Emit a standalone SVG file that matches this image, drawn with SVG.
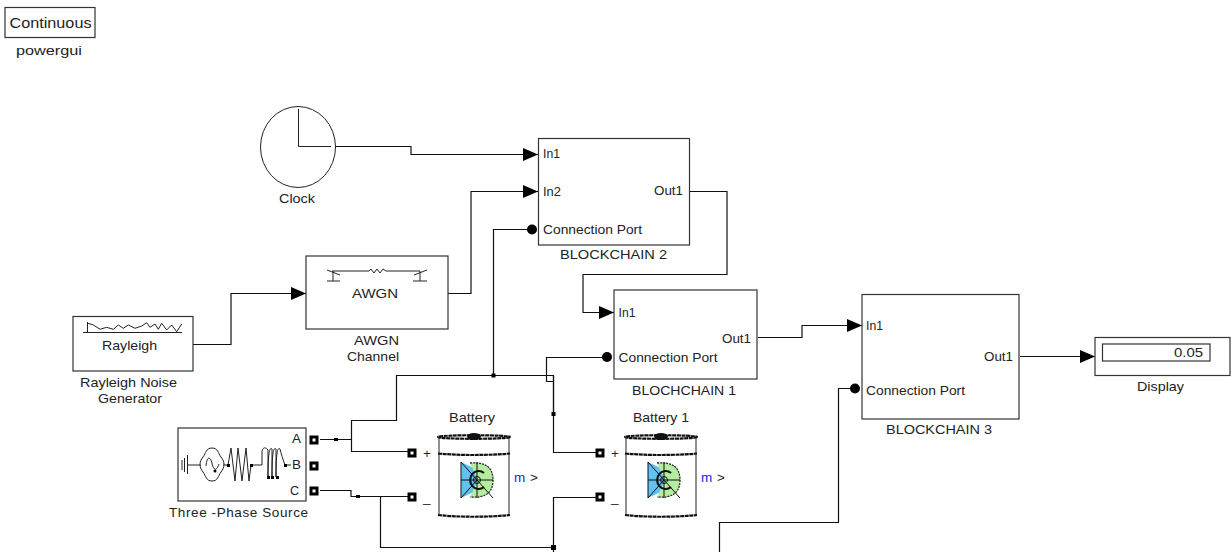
<svg xmlns="http://www.w3.org/2000/svg" width="1231" height="559" viewBox="0 0 1231 559">
<style>
text{font-family:"Liberation Sans",Arial,sans-serif;font-size:13.5px;fill:#222}
.b{fill:#fff;stroke:#333;stroke-width:1.2}
.w{fill:none;stroke:#111;stroke-width:1.2}
.i{fill:none;stroke:#222;stroke-width:1}
.h{fill:none;stroke:#111;stroke-width:2.2;stroke-dasharray:4 .6}
.d{fill:#000}
</style>
<defs>
<marker id="arr" markerUnits="userSpaceOnUse" markerWidth="15" markerHeight="13" refX="15" refY="6.5" orient="auto"><path d="M0 0L15 6.5L0 13Z" fill="#000"/></marker>
<g id="port"><rect x="-3" y="-3" width="6" height="6" fill="#fff" stroke="#000" stroke-width="3"/></g>
<g id="batt">
<path class="i" stroke-width="1.2" d="M439 437V516M509 437V516"/>
<ellipse class="h" cx="474" cy="437" rx="36" ry="1.8"/>
<ellipse cx="474" cy="436.5" rx="7" ry="3.5" fill="#111"/>
<path class="h" d="M438 453.500Q474 456.500 510 453.500"/>
<path class="h" d="M438 515Q474 518.500 510 515"/>
<path d="M461 462L478 470V490L461 498Z" fill="#63c1f2"/>
<path d="M470 463Q493 461 493 480Q493 499 470 497L478 480Z" fill="#b4eda0"/>
<path d="M470 463Q493 461 493 480Q493 499 470 497" fill="none" stroke="#222" stroke-width="1.3" stroke-dasharray="2 1"/>
<path d="M461 462V498L477 480ZM461 480H493M477 462V498M477 480L493 498" fill="none" stroke="#111"/>
<path d="M484 473A8.500 9 0 1 0 484 487" fill="none" stroke="#111" stroke-width="2.2"/>
<circle cx="477" cy="480" r="3.500" fill="none" stroke="#111"/>
</g>
</defs>

<g id="connectors">
<path class="w" marker-end="url(#arr)" d="M335 146.500H411V154.500H538"/>
<path class="w" marker-end="url(#arr)" d="M193 344.500H231V293.500H306"/>
<path class="w" marker-end="url(#arr)" d="M448 293.500H471V191.500H538"/>
<path class="w" marker-end="url(#arr)" d="M690 191.500H727V274.500H583V312.500H614"/>
<path class="w" marker-end="url(#arr)" d="M758 337.500H802V325.500H862"/>
<path class="w" marker-end="url(#arr)" d="M1020 356.500H1095"/>
<path class="w" d="M532 229.500H493.500V375.500"/>
<path class="w" d="M607 357.500H546.500V381.500H554"/>
<path class="w" d="M320 439.500H351.500V451.500H412"/>
<path class="w" d="M351.500 439.500V420.500H396.500V375.500H553.500V452.500H600"/>
<path class="w" stroke-width="2" d="M553.500 376V414"/>
<path class="w" d="M320 490.500H351V496.500H412"/>
<path class="w" d="M380.500 496.500V547.500H553.500"/>
<path class="w" d="M553.500 552V497.500H600"/>
<path class="w" d="M719.500 552V522.500H838.500V388.500H855"/>
<rect class="d" x="491.500" y="373.500" width="4" height="4"/>
<rect class="d" x="551.500" y="412" width="4" height="4"/>
<rect class="d" x="551" y="545" width="5" height="5"/>
<rect class="d" x="334" y="438" width="4" height="3"/>
<rect class="d" x="356" y="495" width="4" height="3"/>
</g>

<g id="powergui">
<rect class="b" x="5" y="7.500" width="90" height="30"/>
<text x="9.500" y="28" textLength="82" lengthAdjust="spacingAndGlyphs" style="font-size:15px">Continuous</text>
<text x="16" y="55" textLength="66" lengthAdjust="spacingAndGlyphs">powergui</text>
</g>

<g id="clock">
<ellipse class="i" cx="298" cy="147" rx="37.500" ry="40.500" stroke-width="1.200"/>
<path class="i" d="M298.500 109V146.500H331"/>
<text x="279" y="203" textLength="36" lengthAdjust="spacingAndGlyphs">Clock</text>
</g>

<g id="blockchain2">
<rect class="b" x="538.500" y="138.500" width="151" height="106.500"/>
<text x="543" y="158" textLength="17" lengthAdjust="spacingAndGlyphs">In1</text>
<text x="543" y="196" textLength="18" lengthAdjust="spacingAndGlyphs">In2</text>
<text x="543" y="234" textLength="99" lengthAdjust="spacingAndGlyphs">Connection Port</text>
<text x="654" y="195" textLength="29" lengthAdjust="spacingAndGlyphs">Out1</text>
<circle class="d" cx="532" cy="229.500" r="5"/>
<text x="560" y="259" textLength="107" lengthAdjust="spacingAndGlyphs">BLOCKCHAIN 2</text>
</g>

<g id="blochchain1">
<rect class="b" x="614" y="290" width="143" height="89"/>
<text x="618.500" y="317" textLength="17" lengthAdjust="spacingAndGlyphs">In1</text>
<text x="618.500" y="362" textLength="99" lengthAdjust="spacingAndGlyphs">Connection Port</text>
<text x="722" y="343" textLength="29" lengthAdjust="spacingAndGlyphs">Out1</text>
<circle class="d" cx="607" cy="357" r="5"/>
<text x="632" y="395" textLength="104" lengthAdjust="spacingAndGlyphs">BLOCHCHAIN 1</text>
</g>

<g id="blockchain3">
<rect class="b" x="862" y="294.500" width="157" height="124.500"/>
<text x="866" y="330" textLength="17" lengthAdjust="spacingAndGlyphs">In1</text>
<text x="866" y="395" textLength="99" lengthAdjust="spacingAndGlyphs">Connection Port</text>
<text x="984" y="361" textLength="29" lengthAdjust="spacingAndGlyphs">Out1</text>
<circle class="d" cx="855" cy="388.500" r="5"/>
<text x="886" y="434" textLength="106" lengthAdjust="spacingAndGlyphs">BLOCKCHAIN 3</text>
</g>

<g id="display">
<rect class="b" x="1095" y="337.500" width="135" height="38"/>
<rect class="b" x="1102.500" y="344" width="107.500" height="17"/>
<text x="1174" y="357" textLength="29" lengthAdjust="spacingAndGlyphs">0.05</text>
<text x="1137" y="391" textLength="47" lengthAdjust="spacingAndGlyphs">Display</text>
</g>

<g id="awgn">
<rect class="b" x="306" y="256" width="142" height="73"/>
<path class="i" d="M332 271H369L371 269L374 273L377 269L380 273L383 269L386 271H420M327 270L340 275M333 271V281M327 281H340M427 270L414 275M420 271V281M413 281H427"/>
<text x="352" y="298" textLength="46" lengthAdjust="spacingAndGlyphs">AWGN</text>
<text x="354" y="345" textLength="45" lengthAdjust="spacingAndGlyphs">AWGN</text>
<text x="347" y="361" textLength="52" lengthAdjust="spacingAndGlyphs">Channel</text>
</g>

<g id="rayleigh">
<rect class="b" x="73" y="316.500" width="120" height="54.500"/>
<path class="i" d="M83 332.500H182M87.500 322V332M88 323.300L93.300 325L100 329.300L106.700 327.300L113.300 329.300L118.300 325L123.300 328.300L128.300 325L135 328.300L141.700 326L146.700 322.700L150 327.300L155 324L158.300 329.300L161.700 323.300L166.700 330L171.700 325L176.700 331.700L181.700 324"/>
<text x="102" y="350" textLength="55" lengthAdjust="spacingAndGlyphs">Rayleigh</text>
<text x="80" y="387" textLength="97" lengthAdjust="spacingAndGlyphs">Rayleigh Noise</text>
<text x="98" y="403" textLength="64" lengthAdjust="spacingAndGlyphs">Generator</text>
</g>

<g id="three-phase-source">
<rect class="b" x="178" y="428" width="128" height="73"/>
<path class="i" stroke-width="1.100" d="M182 460V470M184.500 458V472M187.500 455V474M187.500 465H201"/>
<path class="i" stroke-width="1.100" d="M212 448C218 448 218 453 221 457C225 462 225 467 221 472C218 476 218 481 212 481C206 481 206 476 203 472C199 467 199 462 203 457C206 453 206 448 212 448Z"/>
<path class="i" stroke-width="1.100" d="M206 466C207 456 210 456 212 463C213 469 216 473 219 464"/>
<circle class="d" cx="215" cy="471" r="1.500"/>
<path class="i" stroke-width="1.100" d="M223 465H228L231 448L235 481L238 448L242 481L246 448L249 481L251 465H262V451C263 447 266 447 268 450V477C268 450 270 447 272 449V477C272 450 274 447 276 449V477C276 450 278 447 280 449C281 453 283 460 285 465H291"/>
<rect class="d" x="227" y="464" width="3" height="3"/>
<rect class="d" x="250" y="464" width="3" height="3"/>
<rect class="d" x="267" y="476" width="3" height="3"/>
<rect class="d" x="271" y="476" width="3" height="3"/>
<rect class="d" x="276" y="476" width="3" height="3"/>
<rect class="d" x="284" y="464" width="3" height="3"/>
<text x="292" y="443" textLength="9" lengthAdjust="spacingAndGlyphs">A</text>
<text x="292" y="469" textLength="9" lengthAdjust="spacingAndGlyphs">B</text>
<text x="290" y="495" textLength="9" lengthAdjust="spacingAndGlyphs">C</text>
<use href="#port" x="314" y="440"/>
<use href="#port" x="314" y="466"/>
<use href="#port" x="314" y="491"/>
<text x="169" y="517" textLength="139" lengthAdjust="spacing">Three  -Phase Source</text>
</g>

<g id="battery">
<use href="#batt"/>
<use href="#port" x="412" y="453"/>
<use href="#port" x="412" y="497"/>
<text x="423" y="458">+</text>
<text x="423" y="502">_</text>
<text x="449" y="422" textLength="46" lengthAdjust="spacingAndGlyphs">Battery</text>
<text x="514" y="482" style="fill:#2222dd">m</text>
<text x="530" y="482">&gt;</text>
</g>

<g id="battery1">
<use href="#batt" x="187"/>
<use href="#port" x="600" y="453"/>
<use href="#port" x="600" y="497"/>
<text x="611" y="458">+</text>
<text x="611" y="502">_</text>
<text x="633" y="422" textLength="56" lengthAdjust="spacingAndGlyphs">Battery 1</text>
<text x="701" y="482" style="fill:#2222dd">m</text>
<text x="717" y="482">&gt;</text>
</g>
</svg>
